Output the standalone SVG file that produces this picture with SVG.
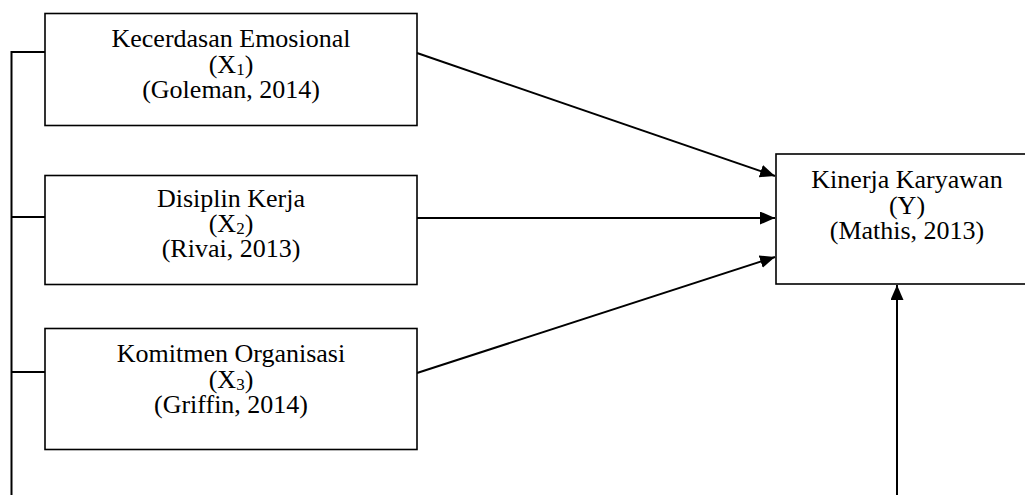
<svg xmlns="http://www.w3.org/2000/svg" width="1025" height="495" viewBox="0 0 1025 495">
<style>
.box{fill:#fff;stroke:#000;stroke-width:1.6}
.t{font-family:"Liberation Serif","Times New Roman",serif;font-size:26px;fill:#000;text-anchor:middle}
.sub{font-size:17px}
.ln{fill:none;stroke:#000;stroke-width:2}
</style>
<defs>
<marker id="ah" markerUnits="userSpaceOnUse" markerWidth="16" markerHeight="14" refX="15" refY="6.5" orient="auto">
<path d="M0,0 L15,6.5 L0,13 z" fill="#000"/>
</marker>
</defs>
<rect width="1025" height="495" fill="#fff"/>
<g id="connectors">
<path class="ln" d="M45,52 H11.5 V495 M11.5,217 H45 M11.5,372 H45" stroke-width="1.6"/>
<line class="ln" x1="417" y1="53" x2="775" y2="176" marker-end="url(#ah)"/>
<line class="ln" x1="417" y1="218" x2="775" y2="218" marker-end="url(#ah)"/>
<line class="ln" x1="417" y1="373" x2="775" y2="257" marker-end="url(#ah)"/>
<line class="ln" x1="897" y1="495" x2="897" y2="285" marker-end="url(#ah)"/>
</g>
<g id="x1">
<rect class="box" x="45" y="13.5" width="372" height="112"/>
<text class="t" x="231" y="47">Kecerdasan Emosional</text>
<text class="t" x="231" y="72.5">(X<tspan class="sub" dy="2">1</tspan><tspan dy="-2">)</tspan></text>
<text class="t" x="231" y="97.5">(Goleman, 2014)</text>
</g>
<g id="x2">
<rect class="box" x="45" y="175.5" width="372" height="109"/>
<text class="t" x="231" y="207">Disiplin Kerja</text>
<text class="t" x="231" y="232">(X<tspan class="sub" dy="2">2</tspan><tspan dy="-2">)</tspan></text>
<text class="t" x="231" y="257">(Rivai, 2013)</text>
</g>
<g id="x3">
<rect class="box" x="45" y="328.5" width="372" height="121"/>
<text class="t" x="231" y="362">Komitmen Organisasi</text>
<text class="t" x="231" y="387.5">(X<tspan class="sub" dy="2">3</tspan><tspan dy="-2">)</tspan></text>
<text class="t" x="231" y="412.5">(Griffin, 2014)</text>
</g>
<g id="y">
<rect class="box" x="776" y="154" width="262" height="130"/>
<text class="t" x="907" y="188">Kinerja Karyawan</text>
<text class="t" x="907" y="213.5">(Y)</text>
<text class="t" x="907" y="239">(Mathis, 2013)</text>
</g>
</svg>
